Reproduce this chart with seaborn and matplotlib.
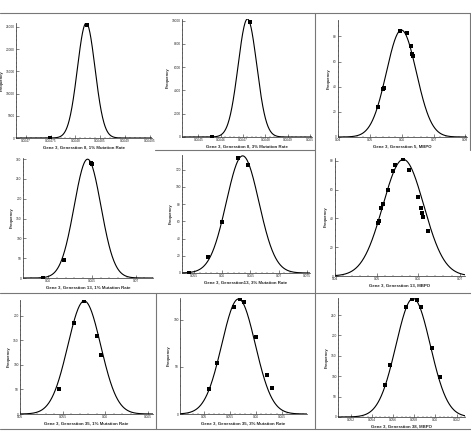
import numpy as np
import pandas as pd
import matplotlib.pyplot as plt
from matplotlib.ticker import MultipleLocator, AutoMinorLocator, FuncFormatter
import seaborn as sns

# panel titles (x labels), row by row
labels = [
    "Gene 3, Generation 8, 1% Mutation Rate",
    "Gene 3, Generation 8, 3% Mutation Rate",
    "Gene 3, Generation 5, MBPO",
    "Gene 3, Generation 13, 1% Mutation Rate",
    "Gene 3, Generation13, 3% Mutation Rate",
    "Gene 3, Generation 13, MBPO",
    "Gene 3, Generation 35, 1% Mutation Rate",
    "Gene 3, Generation 35, 3% Mutation Rate",
    "Gene 3, Generation 38, MBPO",
]

# fitted normal curve for each panel: mean, std dev, peak height
fit_mean = [0.064822, 0.06472, 0.0599, 0.0645, 0.0636, 0.0564, 0.05754, 0.0567, 0.05790]
fit_sd = [0.0000178, 0.000042, 0.0047, 0.00153, 0.0029, 0.0049, 0.00193, 0.0032, 0.00162]
fit_peak = [25900, 10140, 85, 300, 136, 81, 230, 122, 291]

# observed points
pts_x = [
    [0.064749, 0.064824],
    [0.06456, 0.06473],
    [0.0527, 0.0542, 0.0544, 0.0595, 0.0616, 0.0628, 0.0633, 0.0635],
    [0.0594, 0.0618, 0.0649, 0.0650],
    [0.0541, 0.0574, 0.0600, 0.0628, 0.0646],
    [0.0504, 0.0506, 0.0510, 0.0514, 0.0526, 0.0538, 0.0544, 0.0564,
     0.0578, 0.0598, 0.0606, 0.0608, 0.0612, 0.0622],
    [0.05457, 0.05637, 0.05754, 0.05898, 0.05945],
    [0.05096, 0.05256, 0.05577, 0.05692, 0.05769, 0.06006, 0.06218, 0.06301],
    [0.05527, 0.05575, 0.05727, 0.05775, 0.05829, 0.05865, 0.05964, 0.06044],
]
pts_y = [
    [0, 25530],
    [0, 9886],
    [24, 38, 39, 84, 83, 72, 66, 64],
    [0, 45, 291, 287],
    [0, 19, 59, 133, 125],
    [37, 38, 47, 50, 60, 73, 77, 81, 74, 55, 47, 44, 41, 31],
    [51, 186, 230, 158, 120],
    [26, 54, 113, 122, 119, 82, 41, 28],
    [78, 127, 269, 290, 287, 269, 170, 97],
]

# axis ranges and tick steps
x_range = [(0.06468, 0.064955), (0.064426, 0.06501), (0.04, 0.0805), (0.0571, 0.0720),
           (0.0528, 0.0756), (0.04, 0.0712), (0.05, 0.0656), (0.0455, 0.0698), (0.0508, 0.0628)]
x_step = [0.00005, 0.0001, 0.01, 0.005, 0.005, 0.01, 0.005, 0.005, 0.002]
y_top = [25900, 10140, 93, 303, 137, 82, 232, 123, 292]
y_step = [5000, 2000, 20, 50, 20, 20, 50, 50, 50]

# axes boxes in pixels: left, top, right, bottom
boxes = [(16, 23, 152, 138), (182, 19, 312, 137), (338, 20, 467, 137),
         (23, 158, 153, 278), (182, 155, 310, 273), (335, 158, 465, 276),
         (20, 300, 153, 414), (180, 298, 307, 414), (338, 298, 465, 417)]

W, H = 471, 434
sns.set_style("ticks")
plt.rcParams['font.family'] = ['Liberation Sans', 'DejaVu Sans']
fig = plt.figure(figsize=(W / 100, H / 100), dpi=100)
fmt = FuncFormatter(lambda v, p: "%g" % round(v, 7))

for i in range(9):
    l, t, r, b = boxes[i]
    ax = fig.add_axes([l / W, 1 - b / H, (r - l) / W, (b - t) / H])
    lo, hi = x_range[i]
    xs = np.linspace(lo, hi, 400)
    curve = pd.DataFrame({
        "x": xs,
        "y": fit_peak[i] * np.exp(-0.5 * ((xs - fit_mean[i]) / fit_sd[i]) ** 2),
    })
    pts = pd.DataFrame({"x": pts_x[i], "y": pts_y[i]})
    sns.lineplot(data=curve, x="x", y="y", ax=ax, color="black", lw=0.8)
    sns.scatterplot(data=pts, x="x", y="y", ax=ax, color="black", marker="s",
                    s=6, linewidth=0, zorder=3)
    ax.set_xlim(lo, hi)
    ax.set_ylim(0, y_top[i])
    ax.xaxis.set_major_locator(MultipleLocator(x_step[i]))
    ax.yaxis.set_major_locator(MultipleLocator(y_step[i]))
    ax.xaxis.set_major_formatter(fmt)
    ax.xaxis.set_minor_locator(AutoMinorLocator(5))
    ax.yaxis.set_minor_locator(AutoMinorLocator(5))
    ax.tick_params(which="major", direction="in", length=2, width=0.4, labelsize=2.3, pad=1)
    ax.tick_params(which="minor", direction="in", length=1, width=0.3)
    ax.set_xlabel(labels[i], fontsize=3.2, fontweight="bold", labelpad=1.5)
    ax.set_ylabel("Frequency", fontsize=3, fontweight="bold", labelpad=1.5)
    for side in ["top", "right"]:
        ax.spines[side].set_visible(False)
    for side in ["left", "bottom"]:
        ax.spines[side].set_linewidth(0.5)
    ax.set_facecolor("none")

# document frame lines around the pasted panels
frame = [((0, 13), (471, 13)), ((315, 13), (315, 429)), ((470, 13), (470, 150)),
         ((155, 150), (315, 150)), ((0, 293), (471, 293)), ((156, 293), (156, 429)),
         ((0, 429), (471, 429))]
for (x0, y0), (x1, y1) in frame:
    fig.add_artist(plt.Line2D([x0 / W, x1 / W], [1 - y0 / H, 1 - y1 / H],
                              color="#777777", lw=0.8))

fig.savefig("out.png", dpi=100)
